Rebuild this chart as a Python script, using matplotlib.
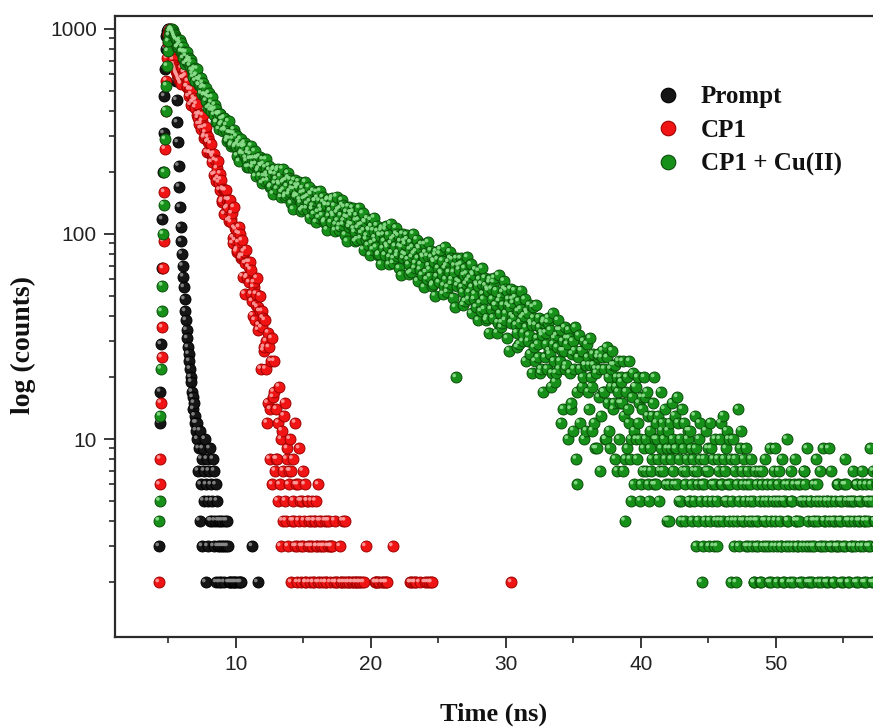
import numpy as np
import matplotlib
matplotlib.use("Agg")
import matplotlib.pyplot as plt
from matplotlib import ticker
from matplotlib.lines import Line2D
from matplotlib.transforms import ScaledTranslation

# ---------------- data ----------------
series_labels = ["Prompt", "CP1", "CP1 + Cu(II)"]
x_major_ticks = [10, 20, 30, 40, 50]
x_minor_ticks = [5, 15, 25, 35, 45, 55]
y_major_ticks = [10, 100, 1000]

channel_ns = 0.05  # TCSPC channel width

# Prompt (instrument response)
prompt_start_ns = 4.30
prompt_counts = [
    3, 12, 17, 29, 68, 118, 200, 310, 470, 640,
    800, 920, 980, 1000, 990, 1000, 970, 950, 930, 900,
    880, 840, 790, 740, 680, 560, 450, 350, 280, 215,
    170, 135, 108, 92, 80, 70, 62, 55, 48, 42,
    38, 34, 31, 28, 26, 24, 22, 20, 19, 17,
    16, 14, 15, 13, 12, 11, 12, 10, 7, 9,
    4, 11, 6, 8, 3, 9, 5, 7, 10, 2,
    6, 8, 3, 5, 7, 9, 4, 6, 4, 5,
    8, 3, 7, 4, 6, 2, 5, 3, 4, 2,
    3, 4, 2, 3, 4, 1, 3, 2, 4, 3,
    1, 4, 3, 2, 1, 2, 0, 2, 1, 2,
    1, 2, 0, 2, 1, 2, 1, 0, 2, 1,
    2, 0, 2,
]
prompt_extra_t = [11.2, 11.6]
prompt_extra_counts = [3, 2]

# CP1
cp1_head_start_ns = 4.30
cp1_head_counts = [
    2, 6, 8, 15, 25, 35, 68, 92, 160, 260,
    400, 560, 720, 850, 940, 990, 1000, 960, 900, 830,
    760, 710, 670, 650, 640, 625, 610, 600, 590, 580,
    565, 560, 548, 540,
]
cp1_decay_start_ns = 6.0
cp1_decay_counts = [
    645, 578, 575, 615, 582, 620, 591, 524, 524, 556, 469, 505, 511, 426, 479, 505, 439, 438, 460, 447,
    414, 450, 430, 382, 368, 343, 381, 386, 327, 344, 355, 379, 329, 295, 300, 312, 333, 250, 281, 296,
    285, 248, 249, 276, 224, 244, 238, 194, 246, 229, 196, 182, 209, 226, 187, 178, 164, 197, 184, 143,
    146, 166, 163, 125, 164, 163, 133, 147, 135, 116, 146, 147, 118, 114, 126, 90, 96, 135, 107, 93,
    105, 82, 84, 101, 91, 108, 100, 76, 78, 93, 62, 78, 82, 51, 72, 84, 61, 62, 73, 69,
    58, 73, 67, 51, 47, 40, 55, 58, 38, 45, 51, 61, 44, 34, 36, 42, 50, 22, 35, 42,
    39, 27, 28, 38, 22, 30, 12, 15, 33, 28, 8, 14, 24, 31, 6, 16, 17, 24, 7, 8,
    14, 8, 5, 12, 18, 6, 3, 10, 11, 4, 7, 13, 15, 5, 4, 8, 9, 3, 6, 7,
    10, 7, 2, 4, 8, 5, 4, 3, 12, 6, 3, 2, 6, 4, 9, 5, 2, 3, 5, 7,
    3, 4, 6, 2, 2, 5, 5, 3, 4, 2, 3, 4, 5, 3, 2, 2, 4, 4, 5, 3,
    3, 2, 6, 4, 2, 3, 4, 1, 3, 2, 1, 3, 4, 2, 2, 4, 3, 1, 4, 3,
    2, 3, 3, 1, 1, 2, 4, 0, 2, 2, 0, 1, 1, 1, 3, 2, 2, 0, 4, 2,
    1, 2, 4, 0, 2, 1, 0, 2, 2, 1, 1, 0, 2, 2, 0, 1, 1, 2, 2, 0,
    2, 1, 1, 2, 2, 0, 0, 2, 1, 1, 2, 0, 3, 1, 0, 0, 1, 0, 0, 1,
    1, 0, 0, 1, 0, 0, 2, 2, 2, 1, 1, 2, 2, 0, 0, 1, 1, 2, 2, 0,
    1, 2, 2, 1, 2, 0, 1, 1, 0, 0, 1, 1, 3, 0, 0, 1, 1, 0, 0, 0,
    1, 0, 0, 1, 0, 0, 1, 0, 0, 1, 1, 0, 0, 1, 1, 0, 0, 1, 2, 2,
    0, 1, 2, 0, 1, 2, 2, 1, 0, 0, 1, 0, 2, 1, 1, 0, 0, 1, 1, 0,
    2, 1, 1, 2, 0, 1, 2, 0, 0, 2, 2,
]
cp1_extra_t = [30.4]
cp1_extra_counts = [2]

# CP1 + Cu(II)
cu_head_start_ns = 4.30
cu_head_counts = [
    4, 5, 13, 22, 42, 56, 100, 139, 200, 290,
    400, 530, 660, 780, 870, 930, 970, 990, 1000, 1000,
    990, 970, 950, 930, 910, 895,
]
cu_decay_a_start_ns = 5.6
cu_decay_counts_a = [
    887, 814, 816, 868, 833, 882, 852, 775, 779, 820, 720, 766, 775, 675, 738, 770, 691, 691, 719, 702,
    662, 709, 686, 629, 605, 582, 624, 642, 558, 591, 597, 639, 567, 535, 531, 561, 577, 484, 514, 545,
    524, 474, 478, 517, 446, 476, 468, 411, 486, 462, 418, 400, 437, 464, 410, 397, 381, 426, 406, 351,
    352, 385, 381, 324, 387, 386, 340, 363, 346, 319, 366, 369, 324, 319, 339, 283, 292, 354, 312, 291,
    311, 270, 275, 309, 291, 323, 308, 265, 270, 299, 241, 274, 282, 226, 267, 290, 246, 250, 272, 265,
    245, 278, 268, 235, 227, 212, 248, 256, 213, 232, 245, 269, 233, 211, 218, 233, 253, 191, 219, 235,
    233, 203, 208, 238, 192, 216, 214, 177, 231, 219, 191, 181, 211, 231, 196, 190, 182, 215, 205, 169,
    171, 198, 196, 157, 205, 208, 176, 195, 185, 166, 203, 208, 177, 174, 191, 151, 160, 208, 178, 164,
    181, 151, 155, 183, 171, 198, 188, 156, 161, 184, 141, 166, 175, 132, 165, 183, 151, 155, 172, 167,
    153, 180, 172, 147, 142, 130, 158, 167, 133, 148, 160, 179, 150, 133, 140, 152, 169, 120, 144, 157,
    156, 132, 137, 162, 125, 145, 145, 114, 160, 150, 128, 120, 145, 162, 135, 130, 123, 151, 143, 114,
    116, 139, 138, 105, 146, 148, 122, 138, 130, 114, 146, 150, 125, 122, 137, 104, 111, 152, 127, 116,
    131, 105, 110, 133, 123, 146, 138, 111, 116, 135, 99, 121, 128, 92, 120, 136, 108, 112, 127, 123,
    111, 134, 128, 106, 102, 92, 116, 123, 94, 107, 117, 134, 110, 95, 101, 111, 126, 84, 104, 115,
    114, 94, 98, 119, 88, 105, 104, 79, 117, 109, 90, 84, 104, 120, 96, 92, 86, 110, 103, 79,
]
cu_decay_b_start_ns = 20.6
cu_decay_counts_b = [
    80, 99, 98, 71, 104, 107, 85, 99, 92, 79, 105, 109, 88, 86, 99, 71, 77, 112, 90, 81,
    94, 72, 76, 96, 87, 107, 100, 78, 81, 98, 68, 87, 92, 63, 86, 100, 76, 80, 92, 89,
    79, 99, 94, 75, 71, 64, 84, 91, 65, 77, 86, 100, 80, 68, 72, 82, 94, 59, 76, 86,
    85, 67, 71, 89, 63, 78, 77, 55, 89, 81, 65, 60, 78, 91, 70, 67, 62, 83, 77, 56,
    57, 74, 73, 50, 79, 82, 62, 75, 68, 58, 80, 84, 65, 64, 74, 51, 56, 86, 68, 60,
    70, 52, 55, 73, 65, 82, 76, 57, 60, 75, 49, 65, 70, 44, 20, 76, 56, 59, 70, 67,
    58, 76, 71, 55, 52, 45, 63, 68, 47, 57, 64, 77, 59, 48, 52, 61, 71, 41, 55, 64,
    63, 48, 51, 67, 44, 57, 56, 38, 66, 60, 46, 42, 57, 68, 51, 48, 43, 61, 56, 38,
    39, 54, 53, 33, 58, 60, 43, 54, 48, 39, 58, 61, 45, 45, 53, 33, 37, 63, 47, 41,
    49, 35, 37, 52, 45, 59, 54, 38, 41, 53, 31, 45, 48, 27, 44, 54, 37, 40, 48, 46,
    39, 53, 49, 36, 33, 28, 42, 47, 29, 37, 43, 53, 39, 30, 33, 40, 48, 24, 35, 42,
    41, 30, 32, 45, 26, 37, 36, 21, 44, 39, 28, 24, 36, 45, 31, 29, 25, 39, 35, 21,
    22, 33, 32, 17, 37, 38, 25, 33, 29, 22, 37, 39, 27, 26, 34, 18, 21, 41, 29, 24,
    31, 19, 21, 32, 28, 38, 34, 22, 24, 34, 12, 27, 30, 14, 27, 35, 22, 23, 31, 29,
    10, 34, 31, 21, 14, 15, 26, 30, 11, 22, 27, 35, 8, 17, 6, 25, 32, 12, 22, 27,
    27, 18, 20, 30, 10, 23, 23, 11, 29, 25, 17, 14, 23, 31, 20, 18, 11, 26, 23, 12,
    9, 22, 21, 9, 25, 26, 16, 22, 7, 13, 25, 27, 17, 17, 22, 10, 10, 28, 25, 15,
    20, 11, 9, 22, 18, 27, 23, 14, 15, 23, 8, 18, 20, 7, 17, 24, 10, 15, 20, 19,
    15, 24, 7, 13, 4, 8, 17, 20, 9, 14, 12, 24, 8, 10, 5, 16, 21, 6, 11, 18,
    18, 10, 8, 20, 12, 15, 10, 5, 6, 16, 14, 7, 9, 20, 16, 10, 7, 17, 13, 6,
]
cu_decay_c_start_ns = 40.6
cu_decay_counts_c = [
    5, 9, 11, 7, 8, 13, 15, 6, 20, 10, 6, 12, 10, 8, 13, 5, 7, 17, 9, 11,
    12, 7, 10, 14, 8, 6, 4, 9, 11, 4, 6, 12, 9, 8, 15, 10, 7, 6, 13, 9,
    9, 6, 16, 12, 5, 8, 10, 5, 4, 14, 7, 9, 12, 4, 6, 7, 8, 10, 11, 5,
    5, 11, 9, 6, 4, 8, 7, 5, 13, 9, 3, 7, 6, 4, 10, 12, 8, 5, 2, 6,
    3, 6, 8, 4, 11, 7, 5, 9, 7, 3, 4, 12, 9, 5, 6, 8, 3, 6, 10, 4,
    5, 3, 8, 7, 4, 10, 12, 6, 6, 4, 13, 8, 7, 5, 9, 11, 5, 6, 10, 4,
    6, 8, 2, 5, 10, 4, 3, 7, 8, 2, 4, 6, 14, 3, 5, 9, 11, 4, 7, 6,
    8, 4, 5, 9, 3, 6, 7, 3, 4, 5, 6, 8, 3, 4, 5, 2, 2, 7, 4, 3,
    6, 4, 3, 7, 5, 2, 2, 6, 7, 3, 4, 5, 8, 4, 3, 6, 5, 3, 2, 9,
    4, 2, 6, 5, 3, 7, 9, 4, 5, 3, 2, 6, 7, 5, 4, 3, 3, 8, 5, 2,
    2, 5, 6, 3, 10, 4, 4, 6, 3, 2, 7, 5, 5, 3, 2, 6, 8, 4, 4, 3,
    3, 6, 4, 2, 6, 5, 2, 3, 5, 7, 7, 6, 3, 5, 9, 2, 4, 3, 2, 5,
    5, 2, 3, 4, 6, 3, 4, 5, 8, 6, 2, 4, 5, 3, 7, 2, 3, 5, 9, 4,
    4, 3, 2, 5, 5, 2, 9, 4, 3, 5, 7, 3, 4, 2, 2, 4, 5, 3, 3, 6,
    6, 3, 4, 5, 2, 4, 5, 2, 3, 6, 8, 3, 6, 5, 4, 2, 2, 4, 5, 3,
    3, 5, 7, 4, 5, 3, 2, 6, 6, 2, 4, 5, 3, 4, 5, 6, 7, 3, 2, 4,
    4, 2, 6, 5, 3, 4, 5, 3, 9, 6, 2, 5, 7, 2, 4, 4, 3, 7, 6, 3, 5,
]

# ---------------- helpers ----------------
def channels(start, counts):
    c = np.asarray(counts, dtype=float)
    return start + channel_ns * np.arange(len(c)), c

def assemble(parts):
    ts, cs = zip(*parts)
    t = np.concatenate(ts)
    c = np.concatenate(cs)
    keep = c > 0
    return t[keep], c[keep]

prompt_t, prompt_c = assemble([
    channels(prompt_start_ns, prompt_counts),
    (np.asarray(prompt_extra_t, float), np.asarray(prompt_extra_counts, float)),
])
cp1_t, cp1_c = assemble([
    channels(cp1_head_start_ns, cp1_head_counts),
    channels(cp1_decay_start_ns, cp1_decay_counts),
    (np.asarray(cp1_extra_t, float), np.asarray(cp1_extra_counts, float)),
])
cu_t, cu_c = assemble([
    channels(cu_head_start_ns, cu_head_counts),
    channels(cu_decay_a_start_ns, cu_decay_counts_a),
    channels(cu_decay_b_start_ns, cu_decay_counts_b),
    channels(cu_decay_c_start_ns, cu_decay_counts_c),
])

# ---------------- figure ----------------
W, H = 873, 728
fig = plt.figure(figsize=(W / 100, H / 100), dpi=100)
ax_left, ax_right, ax_top, ax_bottom = 115, 873, 16, 637
ax = fig.add_axes([ax_left / W, (H - ax_bottom) / H,
                   (ax_right - ax_left) / W, (ax_bottom - ax_top) / H])

styles = [
    dict(face="#151515", edge="#000000", hl="#8c8c8c"),
    dict(face="#f01414", edge="#a00000", hl="#ffa0a0"),
    dict(face="#17901a", edge="#0a4d0a", hl="#8fe08f"),
]
data = [(prompt_t, prompt_c), (cp1_t, cp1_c), (cu_t, cu_c)]

hl_offset = ScaledTranslation(-1.3 / 72, 1.3 / 72, fig.dpi_scale_trans)
for z, ((t, c), st) in enumerate(zip(data, styles)):
    ax.scatter(t, c, s=62, facecolor=st["face"], edgecolor=st["edge"],
               linewidths=0.7, zorder=2 + 2 * z)
    ax.scatter(t, c, s=7, facecolor=st["hl"], edgecolor="none",
               transform=ax.transData + hl_offset, zorder=3 + 2 * z, alpha=0.9)

ax.set_yscale("log")
ax.set_xlim(1.04, 57.19)
ax.set_ylim(1.082, 1157)

ax.set_xticks(x_major_ticks)
ax.set_xticks(x_minor_ticks, minor=True)
ax.xaxis.set_major_formatter(ticker.FormatStrFormatter("%d"))
ax.yaxis.set_major_locator(ticker.FixedLocator(y_major_ticks))
ax.yaxis.set_minor_locator(ticker.LogLocator(base=10, subs=np.arange(2, 10)))
ax.yaxis.set_major_formatter(ticker.FuncFormatter(lambda v, p: f"{v:g}"))
ax.yaxis.set_minor_formatter(ticker.NullFormatter())

spine_col = "#2a2a2a"
for side in ["left", "bottom", "top"]:
    ax.spines[side].set_linewidth(1.6)
    ax.spines[side].set_color(spine_col)
ax.spines["right"].set_visible(False)

ax.tick_params(which="major", direction="out", length=8, width=1.3,
               color=spine_col, labelsize=15, labelcolor="#222222", pad=5)
ax.tick_params(which="minor", direction="out", length=4.5, width=1.2,
               color=spine_col)
ax.tick_params(top=False, right=False, which="both")
for lab in ax.get_xticklabels() + ax.get_yticklabels():
    lab.set_fontfamily("Liberation Sans")

label_font = dict(fontfamily="Liberation Serif", fontweight="bold", color="#111111")
ax.set_xlabel("Time (ns)", fontsize=19, **label_font)
ax.xaxis.set_label_coords(0.5, -0.105)
ax.set_ylabel("log (counts)", fontsize=20, **label_font)
ax.yaxis.set_label_coords(-0.104, 0.47)

handles = [Line2D([], [], ls="none", marker="o", markersize=10.5,
                  markerfacecolor=st["face"], markeredgecolor=st["edge"],
                  markeredgewidth=0.8) for st in styles]
leg = ax.legend(handles, series_labels, loc="upper left",
                bbox_to_anchor=(643 / W, (H - 73) / H),
                bbox_transform=fig.transFigure, frameon=False,
                handlelength=1.0, handletextpad=0.82, labelspacing=0.42,
                borderpad=0.0,
                prop=dict(family="Liberation Serif", weight="bold", size=18))
for txt in leg.get_texts():
    txt.set_color("#111111")

fig.savefig("out.png", dpi=100, facecolor="white")
